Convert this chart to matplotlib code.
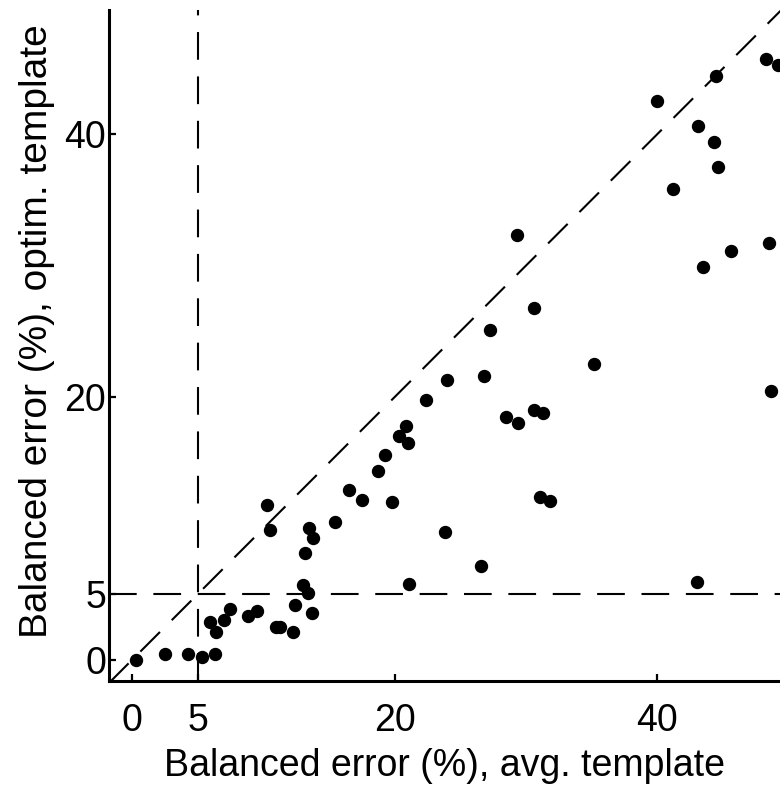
import numpy as np
import matplotlib.pyplot as plt

plt.rcParams['font.family'] = ['Liberation Sans', 'DejaVu Sans']

# balanced error (%) per dataset: average template vs optimised template
err_avg = [0.3, 2.5, 4.25, 5.3, 6.3, 5.95, 6.4, 7.0, 7.45, 8.8, 9.5,
           10.25, 10.5, 16.5, 17.5, 15.45, 13.5, 13.8, 13.2, 13.0, 13.4,
           12.45, 13.7, 11.0, 11.3, 12.3,
           23.97, 26.8, 22.4, 20.9, 20.3, 21.0, 19.3, 18.7, 19.8, 23.8,
           26.55, 21.1, 28.5, 29.4, 30.6, 31.3, 31.1, 31.8, 35.2,
           30.6, 27.3, 29.3,
           40.0, 44.45, 48.3, 49.2, 43.1, 44.35, 44.65, 41.2, 48.5, 45.6,
           43.5, 48.7, 43.0]
err_opt = [0.0, 0.45, 0.45, 0.2, 0.45, 2.9, 2.1, 3.05, 3.85, 3.35, 3.7,
           11.8, 9.9, 12.9, 12.2, 10.5, 10.05, 9.3, 8.15, 5.7, 5.1,
           4.2, 3.6, 2.5, 2.5, 2.1,
           21.3, 21.6, 19.8, 17.8, 17.05, 16.5, 15.6, 14.4, 12.05, 9.75,
           7.15, 5.8, 18.5, 18.05, 19.0, 18.8, 12.4, 12.1, 22.5,
           26.8, 25.1, 32.3,
           42.5, 44.45, 45.7, 45.3, 40.6, 39.4, 37.5, 35.8, 31.75, 31.1,
           29.9, 20.5, 5.9]

ticks = [0, 5, 20, 40]
thr = 5
xlim = (-1.75, 49.35)
ylim = (-1.6, 49.45)

fig = plt.figure(figsize=(7.8, 7.86), dpi=100)
ax = fig.add_axes([109/780, 105/786, 671/780, 671/786])

dash = (0, (13.3, 8))
lo = min(xlim[0], ylim[0])
ax.plot([lo, 60], [lo, 60], color='k', lw=1.5, linestyle=dash, zorder=1)
ax.axvline(thr, color='k', lw=1.5, linestyle=dash, zorder=1)
ax.axhline(thr, color='k', lw=1.5, linestyle=dash, zorder=1)

ax.plot(err_avg, err_opt, 'o', color='k', markersize=8.6, zorder=3)

ax.set_xlim(xlim)
ax.set_ylim(ylim)
ax.set_xticks(ticks)
ax.set_yticks(ticks)
ax.spines['top'].set_visible(False)
ax.spines['right'].set_visible(False)
for s in ['left', 'bottom']:
    ax.spines[s].set_linewidth(2.2)
ax.tick_params(direction='in', length=5, width=1.6, labelsize=27)
ax.tick_params(axis='x', pad=16)
ax.tick_params(axis='y', pad=2)

ax.set_xlabel('Balanced error (%), avg. template', fontsize=27, labelpad=6)
ax.set_ylabel('Balanced error (%), optim. template', fontsize=28)
ax.yaxis.set_label_coords(-0.08, 0.522)

fig.savefig('out.png', dpi=100)
